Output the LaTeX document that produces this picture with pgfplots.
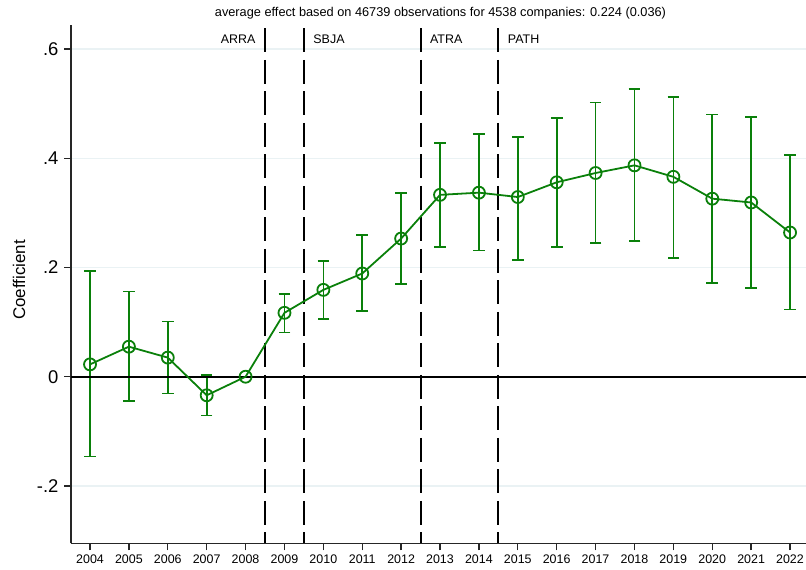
\documentclass[border=0pt]{standalone}
\usepackage{pgfplots}
\pgfplotsset{compat=1.18}
\usepackage{pgfplotstable}
\usepackage{fontspec}
\setmainfont{Liberation Sans}
\definecolor{sgreen}{RGB}{10,128,10}
\definecolor{gridc}{RGB}{234,242,244}

\pgfplotstableread{
year coef
2004 0.0226
2005 0.055
2006 0.035
2007 -0.034
2008 0.0
2009 0.117
2010 0.159
2011 0.189
2012 0.253
2013 0.333
2014 0.337
2015 0.329
2016 0.356
2017 0.373
2018 0.387
2019 0.366
2020 0.326
2021 0.319
2022 0.264
}\coefdata

\pgfplotstableread{
year coef lo hi
2004 0.0226 -0.146 0.193
2005 0.055 -0.045 0.156
2006 0.035 -0.031 0.101
2007 -0.034 -0.071 0.003
2009 0.117 0.081 0.151
2010 0.159 0.106 0.212
2011 0.189 0.120 0.259
2012 0.253 0.170 0.336
2013 0.333 0.237 0.428
2014 0.337 0.231 0.444
2015 0.329 0.214 0.439
2016 0.356 0.237 0.474
2017 0.373 0.245 0.502
2018 0.387 0.248 0.527
2019 0.366 0.218 0.512
2020 0.326 0.171 0.480
2021 0.319 0.162 0.475
2022 0.264 0.123 0.406
}\cidata

\begin{document}
\begin{tikzpicture}
\useasboundingbox (-71bp,-26.7bp) rectangle (735bp,543.3bp);
\begin{axis}[
  at={(0,0)}, anchor=south west,
  scale only axis,
  width=735bp, height=518.3bp,
  xmin=2003.511, xmax=2022.41,
  ymin=-0.305, ymax=0.644,
  axis x line*=bottom, axis y line*=left,
  axis line style={line width=1.5pt, black!85, -},
  xtick={2004,...,2022},
  xticklabels={2004,2005,2006,2007,2008,2009,2010,2011,2012,2013,2014,2015,2016,2017,2018,2019,2020,2021,2022},
  ytick={-0.2,0,0.2,0.4,0.6},
  yticklabels={-.2,0,.2,.4,.6},
  tick align=outside,
  major tick length=7bp,
  tick style={line width=1.4pt, black!85},
  x tick label style={font=\fontsize{12.5}{14}\selectfont, yshift=-1bp},
  y tick label style={font=\fontsize{18.5}{20}\selectfont, xshift=-2bp},
  ymajorgrids,
  grid style={gridc, line width=1.4pt},
  clip=false,
  /pgf/number format/assume math mode=true,
]
% error bars
\addplot[draw=none, mark=none, forget plot,
  error bars/.cd, y dir=both, y explicit,
  error bar style={draw=sgreen, line width=1.7pt, solid},
  error mark options={draw=sgreen, rotate=90, mark size=5.8bp, line width=1.7pt}]
  table[x=year, y=coef,
        y error plus expr=\thisrow{hi}-\thisrow{coef},
        y error minus expr=\thisrow{coef}-\thisrow{lo}] {\cidata};
% zero line
\draw[black, line width=1.7pt] (axis cs:2003.511,0) -- (axis cs:2022.41,0);
% event lines
\draw[black, line width=2pt, dash pattern=on 24bp off 7.5bp] (axis cs:2008.5,0.638) -- (axis cs:2008.5,-0.305);
\draw[black, line width=2pt, dash pattern=on 24bp off 7.5bp] (axis cs:2009.5,0.638) -- (axis cs:2009.5,-0.305);
\draw[black, line width=2pt, dash pattern=on 24bp off 7.5bp] (axis cs:2012.5,0.638) -- (axis cs:2012.5,-0.305);
\draw[black, line width=2pt, dash pattern=on 24bp off 7.5bp] (axis cs:2014.5,0.638) -- (axis cs:2014.5,-0.305);
\node[anchor=base east, font=\fontsize{12.5}{14}\selectfont] at (axis cs:2008.5,0.611) [xshift=-6bp] {ARRA};
\node[anchor=base west, font=\fontsize{12.5}{14}\selectfont] at (axis cs:2009.5,0.611) [xshift=6bp] {SBJA};
\node[anchor=base west, font=\fontsize{12.5}{14}\selectfont] at (axis cs:2012.5,0.611) [xshift=6bp] {ATRA};
\node[anchor=base west, font=\fontsize{12.5}{14}\selectfont] at (axis cs:2014.5,0.611) [xshift=6bp] {PATH};
% coefficient line
\addplot[sgreen, line width=1.8pt, mark=o, mark size=6bp,
  mark options={line width=1.8pt, fill=none, solid}]
  table[x=year, y=coef] {\coefdata};
\node[anchor=base, font=\fontsize{12.8}{14}\selectfont] at ([yshift=8bp, xshift=2bp]rel axis cs:0.5,1)
  {average effect based on 46739 observations for 4538 companies: 0.224 (0.036)};
\node[rotate=90, anchor=center, font=\fontsize{17}{19}\selectfont] at ([xshift=-52bp]rel axis cs:0,0.508) {Coefficient};
\end{axis}
\end{tikzpicture}
\end{document}
